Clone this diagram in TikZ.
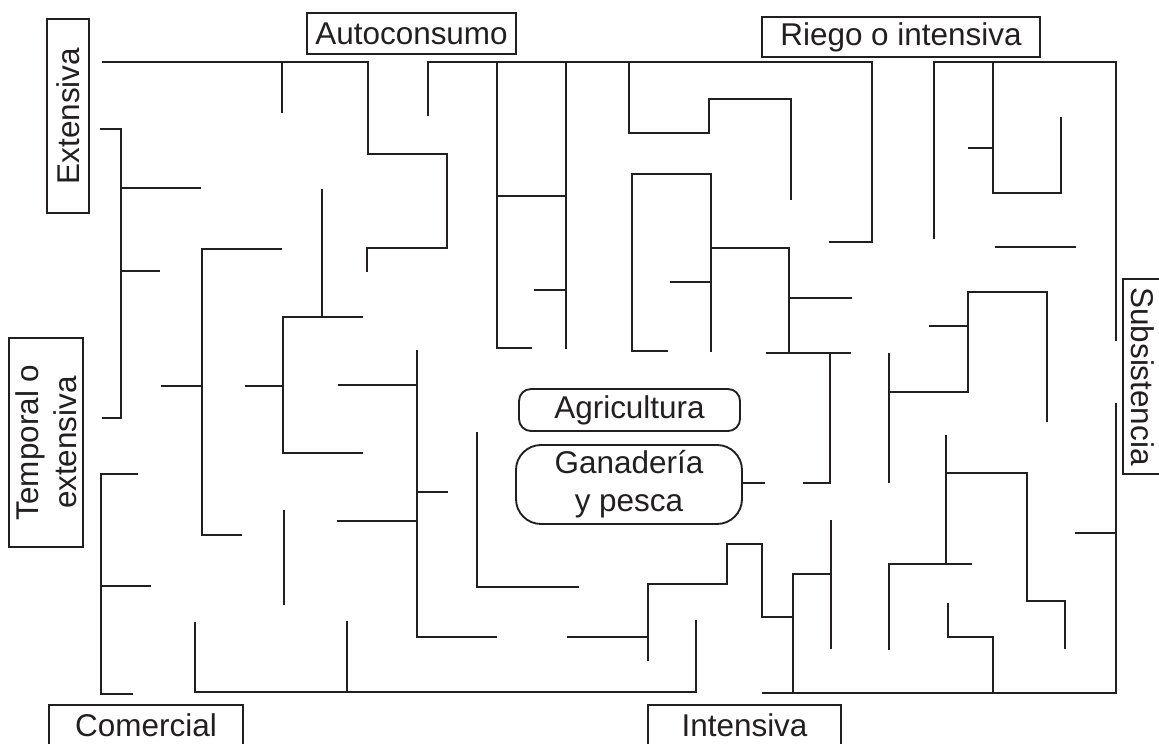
\documentclass[tikz,border=0pt]{standalone}
\usepackage{fontspec}
\setmainfont{Liberation Sans}
\definecolor{ink}{RGB}{35,31,32}
\begin{document}
\begin{tikzpicture}[x=0.75pt,y=-0.75pt,
  wall/.style={draw=ink, line width=1.6pt, line join=miter},
  lbl/.style={draw=ink, text=ink, line width=1.4pt, inner sep=0pt, font=\fontsize{23.6}{28.5}\selectfont, align=center},
  goal/.style={lbl, rounded corners=#1}]
\useasboundingbox (0,0) rectangle (1159,743);
\clip (0,0) rectangle (1159,743);
\fill[white] (0,0) rectangle (1159,743);
% label boxes
\node[lbl, minimum width=156.75pt, minimum height=30.75pt] (auto) at (411.5,33.5) {Autoconsumo};
\node[lbl, minimum width=208.5pt, minimum height=30pt] (riego) at (901,37) {Riego o intensiva};
\node[lbl, rotate=90, minimum width=145.5pt, minimum height=31.5pt] (ext) at (68,116) {Extensiva};
\node[lbl, rotate=90, minimum width=156.75pt, minimum height=55.5pt] (temp) at (46,442.5) {Temporal o\\extensiva};
\node[lbl, rotate=-90, minimum width=146.25pt, minimum height=30pt] (subs) at (1143,376.5) {Subsistencia};
\node[lbl, minimum width=145.5pt, minimum height=30pt] (com) at (146,725) {Comercial};
\node[lbl, minimum width=144.75pt, minimum height=30pt] (int) at (744.5,725) {Intensiva};
\node[goal=9pt, minimum width=165.75pt, minimum height=31.5pt] (agri) at (629.5,410) {Agricultura};
\node[goal=18.75pt, minimum width=169.5pt, minimum height=59.25pt] (gana) at (629,484.5) {Ganadería\\y pesca};
% walls
\draw[wall] (102,62) -- (368,62) -- (368,154) -- (447,154) -- (447,248) -- (367,248) -- (367,272);
\draw[wall] (282,62) -- (282,113);
\draw[wall] (428,116) -- (428,62) -- (872,62) -- (872,242) -- (829,242);
\draw[wall] (497,62) -- (497,348) -- (532,348);
\draw[wall] (566,62) -- (566,349);
\draw[wall] (497,196) -- (566,196);
\draw[wall] (534,290) -- (566,290);
\draw[wall] (629,62) -- (629,133) -- (709,133) -- (709,99) -- (791,99) -- (791,200);
\draw[wall] (668,351) -- (632,351) -- (632,174) -- (711,174) -- (711,352);
\draw[wall] (711,248) -- (789,248) -- (789,353);
\draw[wall] (670,282) -- (711,282);
\draw[wall] (789,298) -- (852,298);
\draw[wall] (766,353) -- (851,353);
\draw[wall] (830,353) -- (830,483) -- (803,483);
\draw[wall] (gana.east |- 0,483) -- (765,483);
\draw[wall] (934,239) -- (934,62) -- (1116,62) -- (1116,341);
\draw[wall] (993,62) -- (993,193) -- (1061,193) -- (1061,117);
\draw[wall] (968,148) -- (993,148);
\draw[wall] (995,247) -- (1076,247);
\draw[wall] (889,353) -- (889,483);
\draw[wall] (889,392) -- (968,392) -- (968,292) -- (1047,292) -- (1047,422);
\draw[wall] (929,326) -- (968,326);
\draw[wall] (1116,403) -- (1116,693) -- (762,693);
\draw[wall] (1075,533) -- (1116,533);
\draw[wall] (946,435) -- (946,564);
\draw[wall] (889,650) -- (889,564) -- (972,564);
\draw[wall] (946,473) -- (1027,473) -- (1027,601) -- (1065,601) -- (1065,649);
\draw[wall] (948,603) -- (948,637) -- (993,637) -- (993,693);
\draw[wall] (831,520) -- (831,649);
\draw[wall] (793,693) -- (793,574) -- (831,574);
\draw[wall] (567,637) -- (648,637);
\draw[wall] (648,661) -- (648,584) -- (727,584) -- (727,544) -- (762,544) -- (762,617) -- (793,617);
\draw[wall] (195,622) -- (195,692) -- (696,692) -- (696,620);
\draw[wall] (347,621) -- (347,692);
\draw[wall] (138,474) -- (101,474) -- (101,694) -- (133,694);
\draw[wall] (101,586) -- (151,586);
\draw[wall] (284,510) -- (284,605);
\draw[wall] (282,249) -- (202,249) -- (202,535) -- (242,535);
\draw[wall] (161,386) -- (202,386);
\draw[wall] (100,129) -- (121,129) -- (121,418) -- (102,418);
\draw[wall] (121,271) -- (160,271);
\draw[wall] (121,188) -- (201,188);
\draw[wall] (322,189) -- (322,317);
\draw[wall] (363,317) -- (283,317) -- (283,453) -- (363,453);
\draw[wall] (245,386) -- (283,386);
\draw[wall] (338,385) -- (417,385);
\draw[wall] (417,350) -- (417,637) -- (497,637);
\draw[wall] (417,492) -- (448,492);
\draw[wall] (337,521) -- (417,521);
\draw[wall] (477,432) -- (477,587) -- (579,587);
\end{tikzpicture}
\end{document}
